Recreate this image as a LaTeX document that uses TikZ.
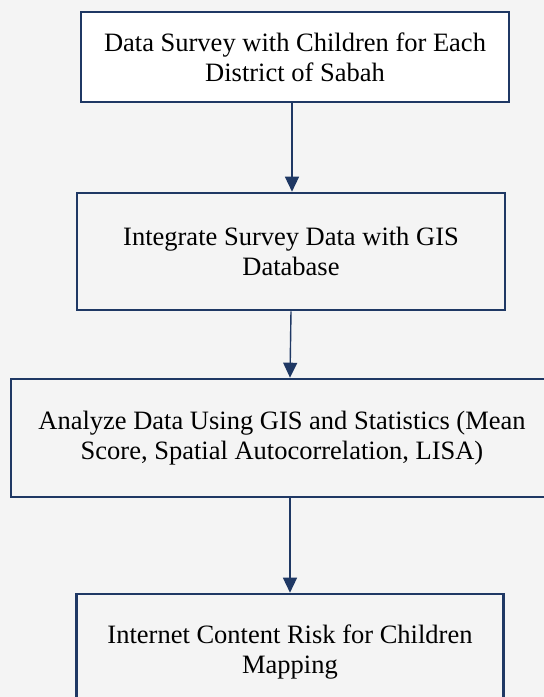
\documentclass[tikz,border=0pt]{standalone}
\usepackage{fontspec}
\setmainfont{Liberation Serif}
\usetikzlibrary{arrows.meta}
\definecolor{navy}{HTML}{1F3864}
\definecolor{bg}{HTML}{F4F4F4}
\begin{document}
\begin{tikzpicture}[x=1pt,y=-1pt,
  txt/.style={align=center,inner sep=0pt,text=black,
    font=\rmfamily\fontsize{26.5pt}{30pt}\selectfont},
  box/.style={txt,draw=navy,line width=2.6pt},
  arr/.style={draw=navy,line width=1.4pt,-{Triangle[width=14pt,length=15pt]}}]
\useasboundingbox (0,0) rectangle (544,697);
\clip (0,0) rectangle (544,697);
\fill[bg] (0,0) rectangle (544,697);
\node[box,fill=white,minimum width=428pt,minimum height=90pt] (b1) at (295,57)
  {Data Survey with Children for Each\\District of Sabah};
\node[box,fill=bg,minimum width=428pt,minimum height=117pt] (b2) at (291,251.5)
  {Integrate Survey Data with GIS\\Database};
\node[box,fill=bg,minimum width=542pt,minimum height=118pt] (b3) at (282,438)
  {Analyze Data Using GIS and Statistics (Mean\\Score, Spatial Autocorrelation, LISA)};
\node[box,fill=bg,minimum width=427pt,minimum height=120pt] (b4) at (290,654) {};
\node[txt] (t4) at (290,652)
  {Internet Content Risk for Children\\Mapping};
\draw[arr] ([xshift=-3pt]b1.south) -- ([xshift=1pt]b2.north);
\draw[arr] (b2.south) -- ([xshift=8pt]b3.north);
\draw[arr] ([xshift=8pt]b3.south) -- (b4.north);
\end{tikzpicture}
\end{document}
